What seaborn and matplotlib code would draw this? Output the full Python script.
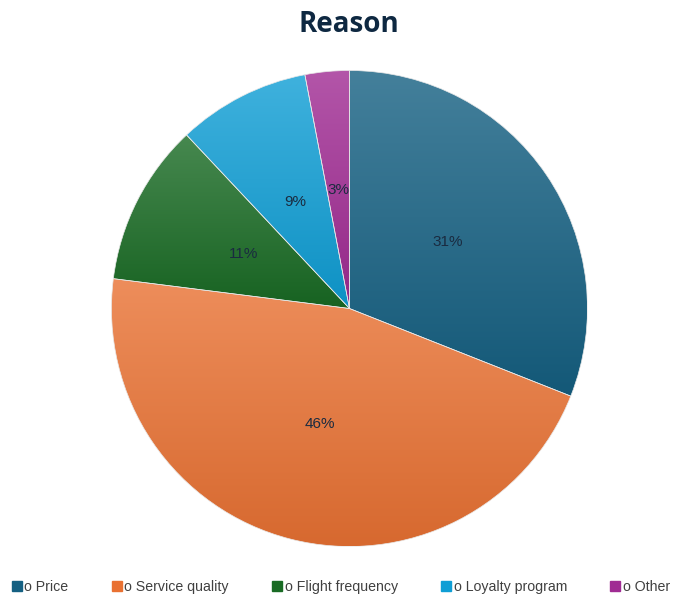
import numpy as np
import matplotlib
matplotlib.use("Agg")
import matplotlib.pyplot as plt
import matplotlib.colors as mcolors
from matplotlib.lines import Line2D
import seaborn as sns

categories = ["Price", "Service quality", "Flight frequency", "Loyalty program", "Other"]
shares = [31, 46, 11, 9, 3]
legend_labels = ["o Price", "o Service quality", "o Flight frequency", "o Loyalty program", "o Other"]
base_colors = ["#156082", "#E97132", "#196B24", "#0F9ED5", "#A02B93"]

sns.set_theme(style="white")
plt.rcParams["font.family"] = ["Liberation Sans", "DejaVu Sans"]

fig = plt.figure(figsize=(6.98, 6.01), dpi=100)
ax = fig.add_axes([0.1597, 0.0907, 476 / 698, 476 / 601])

wedges, texts, autotexts = ax.pie(
    shares, colors=base_colors, startangle=90, counterclock=False,
    autopct="%1.0f%%", pctdistance=0.5, radius=1,
    wedgeprops=dict(edgecolor="#e8e8e8", linewidth=0.5),
    textprops=dict(color="#1a2b40", fontsize=11),
)
ax.set_aspect("equal")
ax.axis("off")


def shade(c, amt):
    r = np.array(mcolors.to_rgb(c))
    if amt >= 0:
        return r + (1 - r) * amt
    return r * (1 + amt)


# vertical gradient fill for each wedge, lighter at the top
for w, c in zip(wedges, base_colors):
    pts = w.get_patch_transform().transform(w.get_path().vertices)
    x0, x1 = pts[:, 0].min(), pts[:, 0].max()
    y0, y1 = pts[:, 1].min(), pts[:, 1].max()
    top = shade(c, 0.2)
    bot = shade(c, -0.08)
    t = np.linspace(0, 1, 256)[:, None]
    grad = bot[None, :] * (1 - t) + top[None, :] * t
    img = np.repeat(grad[:, None, :], 2, axis=1)
    im = ax.imshow(img, extent=[x0, x1, y0, y1], origin="lower",
                   aspect="auto", zorder=w.get_zorder() + 0.1, interpolation="bilinear")
    im.set_clip_path(w)
    w.set_facecolor("none")
    w.set_zorder(w.get_zorder() + 0.2)

for t in autotexts:
    t.set_zorder(5)

ax.set_xlim(-1.0, 1.0)
ax.set_ylim(-1.0, 1.0)

fig.text(0.5, 0.960, "Reason", ha="center", va="center", fontsize=20,
         fontweight="bold", color="#0e2841", family=["Open Sans", "DejaVu Sans"])

handles = [Line2D([0], [0], marker="s", linestyle="none", markersize=7,
                  markerfacecolor=c, markeredgecolor=c) for c in base_colors]
fig.legend(handles, legend_labels, loc="center", bbox_to_anchor=(0.487, 0.023),
           ncol=5, frameon=False, fontsize=10.2, labelcolor="#404040",
           handletextpad=0.05, columnspacing=2.9, handlelength=1.0)

fig.savefig("out.png", dpi=100, facecolor="white")
